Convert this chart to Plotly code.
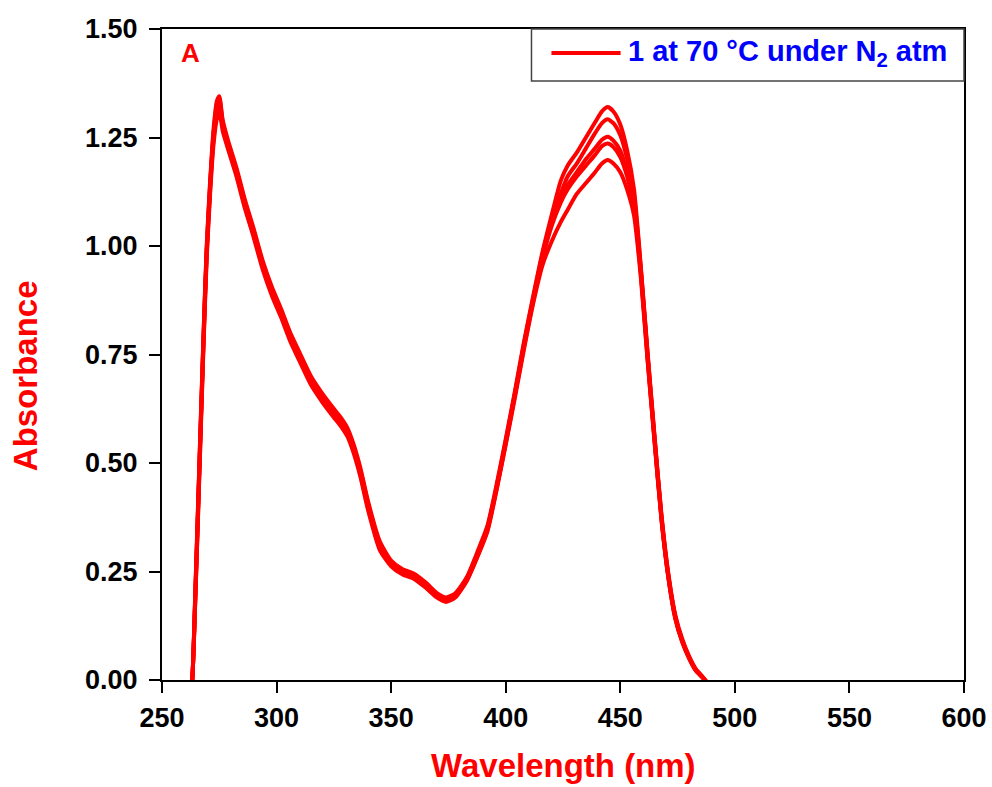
import plotly.graph_objects as go

# Wavelength grid (nm)
wavelength = [262, 263.2, 264.5, 266, 268, 269.5, 271, 272.5, 274, 275,
              276.5, 279, 282.5, 286, 290, 294, 298, 302, 306, 310,
              315, 320, 325, 328, 331, 333.5, 336.5, 340, 345, 350,
              355, 360, 365, 370, 374, 378, 383, 388, 392, 396,
              400, 404, 408, 412, 416, 420, 424, 427, 431, 435,
              439, 442, 444.5, 447, 450, 453, 456, 459, 462, 465,
              468, 471, 474, 477, 480, 483, 486, 490]

abs_1 = [-0.05, 0.0, 0.20, 0.45, 0.78, 1.00, 1.15, 1.27, 1.335, 1.345,
         1.29, 1.24, 1.18, 1.11, 1.04, 0.965, 0.905, 0.855, 0.80, 0.755,
         0.70, 0.66, 0.625, 0.605, 0.58, 0.545, 0.49, 0.41, 0.32, 0.275,
         0.255, 0.245, 0.225, 0.20, 0.19, 0.20, 0.237, 0.30, 0.355, 0.45,
         0.555, 0.665, 0.78, 0.885, 0.985, 1.07, 1.15, 1.185, 1.215, 1.25,
         1.285, 1.31, 1.32, 1.31, 1.28, 1.22, 1.13, 0.95, 0.75, 0.56,
         0.38, 0.245, 0.15, 0.095, 0.055, 0.025, 0.007, -0.02]

abs_2 = [-0.05, 0.0, 0.19, 0.44, 0.77, 0.99, 1.14, 1.26, 1.33, 1.34,
         1.285, 1.235, 1.175, 1.105, 1.035, 0.96, 0.90, 0.85, 0.795, 0.75,
         0.695, 0.655, 0.62, 0.60, 0.575, 0.54, 0.485, 0.405, 0.315, 0.27,
         0.25, 0.24, 0.22, 0.197, 0.187, 0.197, 0.233, 0.295, 0.35, 0.445,
         0.55, 0.66, 0.775, 0.88, 0.98, 1.06, 1.12, 1.16, 1.19, 1.225,
         1.26, 1.283, 1.292, 1.283, 1.255, 1.20, 1.115, 0.945, 0.745, 0.555,
         0.375, 0.24, 0.147, 0.092, 0.053, 0.024, 0.006, -0.02]

abs_3 = [-0.05, 0.0, 0.19, 0.44, 0.77, 0.99, 1.14, 1.255, 1.32, 1.335,
         1.28, 1.23, 1.17, 1.10, 1.03, 0.955, 0.895, 0.845, 0.79, 0.745,
         0.69, 0.65, 0.615, 0.595, 0.57, 0.535, 0.48, 0.40, 0.31, 0.268,
         0.248, 0.238, 0.218, 0.195, 0.185, 0.195, 0.232, 0.293, 0.348, 0.443,
         0.548, 0.658, 0.772, 0.877, 0.975, 1.05, 1.105, 1.14, 1.17, 1.20,
         1.225, 1.245, 1.252, 1.243, 1.22, 1.17, 1.10, 0.94, 0.74, 0.552,
         0.372, 0.238, 0.145, 0.09, 0.052, 0.023, 0.006, -0.02]

abs_4 = [-0.05, 0.0, 0.18, 0.43, 0.76, 0.98, 1.13, 1.245, 1.31, 1.325,
         1.275, 1.225, 1.165, 1.095, 1.025, 0.95, 0.89, 0.84, 0.785, 0.74,
         0.685, 0.645, 0.61, 0.59, 0.565, 0.53, 0.475, 0.395, 0.305, 0.265,
         0.245, 0.235, 0.215, 0.192, 0.182, 0.193, 0.23, 0.29, 0.345, 0.44,
         0.545, 0.655, 0.768, 0.873, 0.97, 1.045, 1.10, 1.13, 1.16, 1.185,
         1.21, 1.23, 1.236, 1.228, 1.205, 1.16, 1.09, 0.935, 0.735, 0.548,
         0.37, 0.236, 0.143, 0.089, 0.051, 0.022, 0.005, -0.02]

abs_5 = [-0.05, 0.0, 0.18, 0.42, 0.75, 0.97, 1.12, 1.235, 1.295, 1.31,
         1.265, 1.22, 1.16, 1.09, 1.02, 0.945, 0.885, 0.835, 0.78, 0.735,
         0.68, 0.64, 0.605, 0.585, 0.56, 0.525, 0.47, 0.39, 0.30, 0.262,
         0.243, 0.233, 0.213, 0.19, 0.18, 0.19, 0.228, 0.288, 0.342, 0.437,
         0.542, 0.65, 0.763, 0.868, 0.955, 1.01, 1.055, 1.083, 1.12, 1.145,
         1.17, 1.19, 1.198, 1.19, 1.17, 1.13, 1.07, 0.925, 0.73, 0.545,
         0.367, 0.234, 0.141, 0.088, 0.05, 0.021, 0.005, -0.02]

series = [abs_1, abs_2, abs_3, abs_4, abs_5]

x_ticks = [250, 300, 350, 400, 450, 500, 550, 600]
y_ticks = [0.0, 0.25, 0.5, 0.75, 1.0, 1.25, 1.5]
y_ticklabels = ["0.00", "0.25", "0.50", "0.75", "1.00", "1.25", "1.50"]

legend_label = "1 at 70 \u00b0C under N<sub>2</sub> atm"
panel_label = "A"
x_title = "Wavelength (nm)"
y_title = "Absorbance"

FONT = "Liberation Sans, Arial, sans-serif"
RED = "#ff0000"

fig = go.Figure()
for ys in series:
    fig.add_trace(go.Scatter(x=wavelength, y=ys, mode="lines",
                             line=dict(color=RED, width=4, shape="spline", smoothing=0.6),
                             showlegend=False, hoverinfo="skip"))

axis_common = dict(showgrid=False, zeroline=False, showline=True, linecolor="black",
                   linewidth=2, mirror=True, ticks="outside", ticklen=11, tickwidth=2,
                   tickcolor="black", automargin=False,
                   tickfont=dict(family=FONT, size=27, color="black", weight="bold"))

fig.update_xaxes(range=[250, 600], tickvals=x_ticks, ticklabelstandoff=2, **axis_common)
fig.update_yaxes(range=[0, 1.5], tickvals=y_ticks, ticktext=y_ticklabels,
                 ticklabelstandoff=6, **axis_common)

# axis titles
fig.add_annotation(xref="paper", yref="paper", x=0.50, y=-0.131, xanchor="center", yanchor="middle",
                   text=x_title, showarrow=False,
                   font=dict(family=FONT, size=33, color=RED, weight="bold"))
fig.add_annotation(xref="paper", yref="paper", x=-0.171, y=0.468, xanchor="center", yanchor="middle",
                   text=y_title, showarrow=False, textangle=-90,
                   font=dict(family=FONT, size=33, color=RED, weight="bold"))

# legend box (drawn manually to match the long line sample)
fig.add_shape(type="rect", xref="paper", yref="paper", x0=0.4607, x1=1.0, y0=0.920, y1=1.0,
              line=dict(color="#444444", width=1.5), fillcolor="white", layer="above")
fig.add_shape(type="line", xref="paper", yref="paper", x0=0.4856, x1=0.5718, y0=0.963, y1=0.963,
              line=dict(color=RED, width=4), layer="above")
fig.add_annotation(xref="paper", yref="paper", x=0.578, y=0.963, xanchor="left", yanchor="middle",
                   text=legend_label, showarrow=False,
                   font=dict(family=FONT, size=29, color="#0000ff", weight="bold"))
fig.add_annotation(xref="paper", yref="paper", x=0.035, y=0.963, xanchor="center", yanchor="middle",
                   text=panel_label, showarrow=False,
                   font=dict(family=FONT, size=26, color=RED, weight="bold"))

fig.update_layout(width=992, height=787, margin=dict(l=162, r=28, t=29, b=107),
                  plot_bgcolor="white", paper_bgcolor="white")

fig.write_html("out.html")
